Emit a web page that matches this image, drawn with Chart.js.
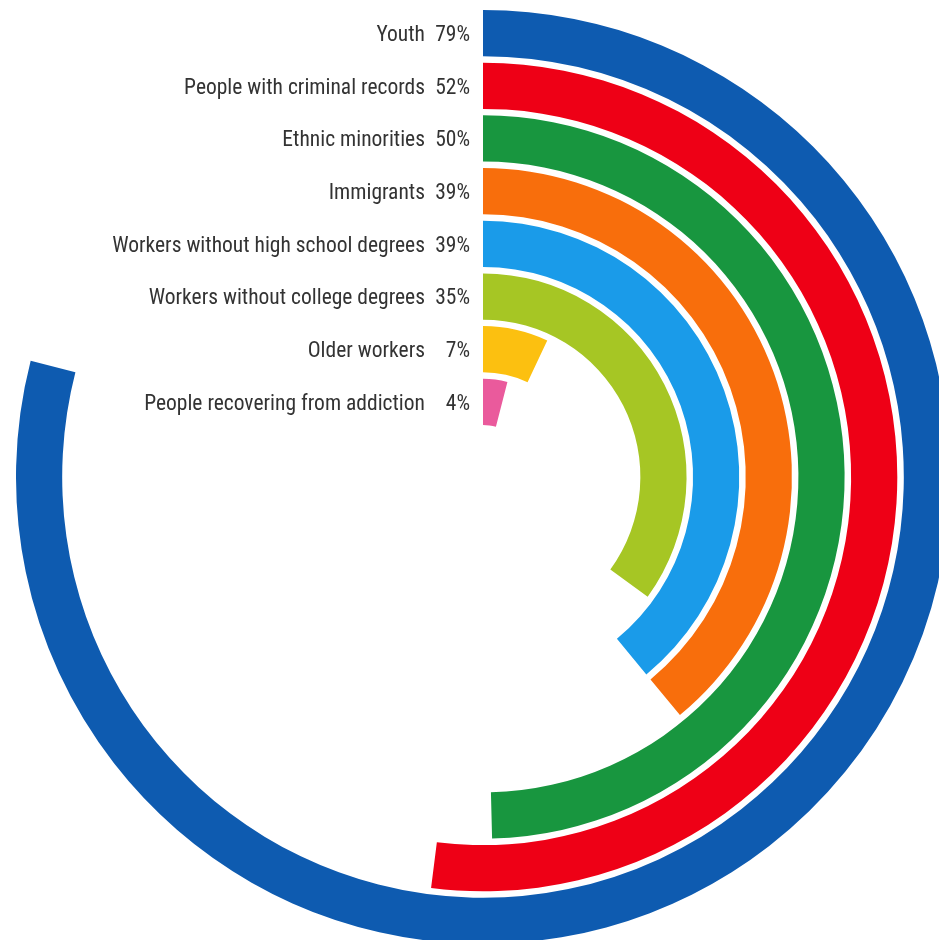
<!DOCTYPE html>
<html>
<head>
<meta charset="utf-8">
<script src="https://cdn.jsdelivr.net/npm/chart.js@4"></script>
<style>
  html, body { margin: 0; padding: 0; background: #fff; overflow: hidden; width: 939px; height: 940px; }
  #wrap { position: absolute; left: 16px; top: 10px; width: 934px; height: 934px; }
</style>
</head>
<body>
<div id="wrap"><canvas id="rings" width="934" height="934"></canvas></div>
<script>
const groups = [
  'Youth',
  'People with criminal records',
  'Ethnic minorities',
  'Immigrants',
  'Workers without high school degrees',
  'Workers without college degrees',
  'Older workers',
  'People recovering from addiction',
];
const shares = [79, 52, 49.6, 39, 39, 35, 7, 4];
const shareLabels = ['79%', '52%', '50%', '39%', '39%', '35%', '7%', '4%'];
const colors = ['#0e5bb0', '#ee0016', '#18963f', '#f86e0c', '#1a9be9', '#a6c624', '#fcc010', '#ea5a9c'];

const RING = 46.2;
const GAP = 6.5;

// one dataset per ring, with a blank spacer ring between them
const datasets = [];
groups.forEach((g, i) => {
  if (i > 0) {
    datasets.push({ data: [100], backgroundColor: ['rgba(0,0,0,0)'], weight: GAP, spacer: true });
  }
  datasets.push({
    label: g,
    data: [shares[i], 100 - shares[i]],
    backgroundColor: [colors[i], 'rgba(0,0,0,0)'],
    weight: RING,
    idx: i,
  });
});

const ringLabels = {
  id: 'ringLabels',
  afterDraw(chart) {
    const ctx = chart.ctx;
    ctx.save();
    ctx.fillStyle = '#333';
    ctx.font = '21.5px "Roboto Condensed", "Liberation Sans Narrow", "DejaVu Sans Condensed", Roboto, sans-serif';
    ctx.textAlign = 'right';
    ctx.textBaseline = 'middle';
    chart.data.datasets.forEach((ds, di) => {
      if (ds.spacer) return;
      const arc = chart.getDatasetMeta(di).data[0];
      const mid = (arc.innerRadius + arc.outerRadius) / 2;
      const y = arc.y - mid + 2.5;
      ctx.fillText(ds.label, arc.x - 58, y);
      ctx.fillText(shareLabels[ds.idx], arc.x - 13, y);
    });
    ctx.restore();
  },
};

new Chart(document.getElementById('rings'), {
  type: 'doughnut',
  data: { labels: ['share', 'rest'], datasets },
  options: {
    responsive: false,
    animation: false,
    cutout: 52,
    borderWidth: 0,
    events: [],
    layout: { padding: 0 },
    plugins: { legend: { display: false }, tooltip: { enabled: false } },
  },
  plugins: [ringLabels],
});
</script>
</body>
</html>
